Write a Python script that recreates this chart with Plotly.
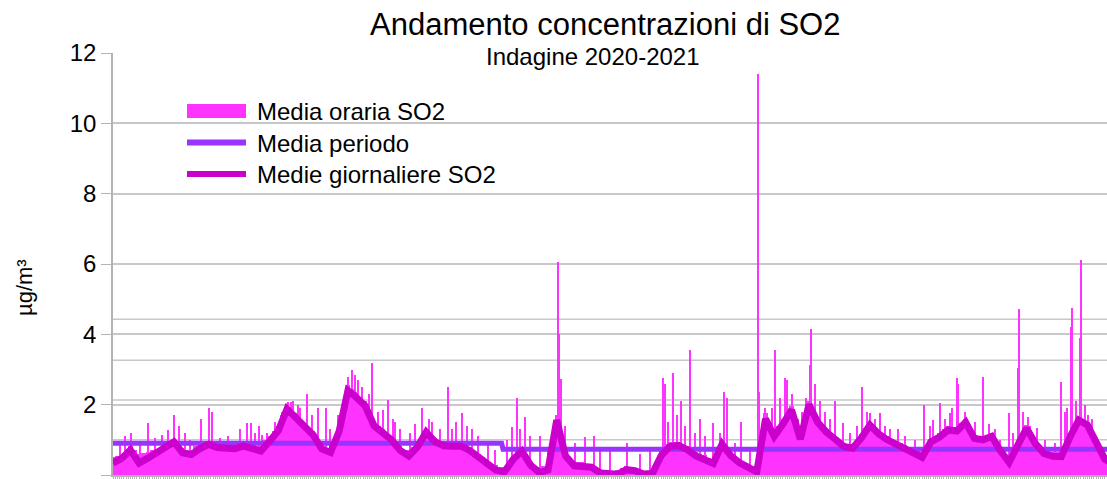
import plotly.graph_objects as go

# ---------------- data ----------------
HOURS_PER_DAY = 24
# daily means (one value per day, starting at hour 0)
daily_means = [
    0.34, 0.47, 0.71, 0.34, 0.48, 0.62, 0.78, 0.94, 0.63, 0.58,
    0.75, 0.87, 0.78, 0.74, 0.75, 0.82, 0.75, 0.68, 0.96, 1.26,
    1.88, 1.62, 1.34, 1.14, 0.74, 0.64, 1.25, 2.40, 2.20, 1.96,
    1.40, 1.18, 1.00, 0.70, 0.54, 0.80, 1.22, 0.95, 0.83, 0.82,
    0.82, 0.70, 0.50, 0.32, 0.14, 0.09, 0.45, 0.68, 0.28, 0.07,
    0.14, 1.56, 0.55, 0.26, 0.26, 0.22, 0.06, 0.03, 0.02, 0.15,
    0.12, 0.03, 0.04, 0.55, 0.81, 0.84, 0.72, 0.54, 0.46, 0.33,
    0.88, 0.55, 0.35, 0.20, 0.09, 1.60, 1.10, 1.45, 1.85, 1.02,
    2.00, 1.50, 1.22, 1.02, 0.81, 0.76, 1.05, 1.42, 1.17, 1.00,
    0.88, 0.74, 0.64, 0.50, 0.94, 1.08, 1.28, 1.25, 1.50, 1.04,
    1.00, 1.10, 0.69, 0.36, 0.85, 1.33, 0.90, 0.61, 0.53, 0.52,
    1.08, 1.56, 1.42, 0.91, 0.45, 0.30,
]

# hourly concentrations, summarised in 12-hour blocks (block j centred at hour 12*j)
hourly_blocks = [
    0.50, 0.55, 0.60, 0.70, 0.82, 0.70, 0.60, 0.62, 0.65, 0.70,
    0.75, 0.80, 0.90, 0.95, 1.02, 0.90, 0.78, 0.72, 0.72, 0.82,
    0.88, 0.95, 0.98, 0.92, 0.90, 0.86, 0.86, 0.88, 0.90, 0.94,
    0.95, 0.88, 0.86, 0.82, 0.82, 1.00, 1.10, 1.25, 1.40, 1.70,
    2.00, 1.85, 1.75, 1.55, 1.45, 1.35, 1.25, 1.00, 0.85, 0.78,
    0.78, 1.05, 1.40, 2.00, 2.55, 2.45, 2.35, 2.20, 2.10, 1.80,
    1.50, 1.40, 1.30, 1.20, 1.10, 0.95, 0.82, 0.72, 0.70, 0.80,
    0.95, 1.15, 1.32, 1.15, 1.05, 0.98, 0.95, 0.92, 0.92, 0.94,
    0.92, 0.85, 0.80, 0.68, 0.60, 0.50, 0.42, 0.32, 0.28, 0.22,
    0.22, 0.40, 0.58, 0.70, 0.78, 0.55, 0.38, 0.25, 0.22, 0.25,
    0.30, 0.90, 1.70, 1.10, 0.60, 0.40, 0.38, 0.36, 0.36, 0.32,
    0.30, 0.22, 0.18, 0.15, 0.14, 0.12, 0.14, 0.20, 0.25, 0.22,
    0.20, 0.15, 0.12, 0.12, 0.14, 0.40, 0.70, 0.88, 0.95, 0.95,
    0.95, 0.85, 0.82, 0.68, 0.65, 0.60, 0.56, 0.48, 0.45, 0.70,
    0.95, 0.75, 0.62, 0.50, 0.45, 0.35, 0.30, 0.22, 0.25, 1.00,
    1.75, 1.40, 1.25, 1.40, 1.60, 1.80, 1.95, 1.50, 1.20, 1.60,
    2.10, 1.85, 1.60, 1.45, 1.32, 1.20, 1.12, 1.00, 0.92, 0.88,
    0.88, 1.00, 1.18, 1.35, 1.50, 1.38, 1.28, 1.15, 1.10, 1.02,
    0.98, 0.90, 0.86, 0.80, 0.76, 0.70, 0.65, 0.85, 1.05, 1.12,
    1.20, 1.30, 1.38, 1.36, 1.36, 1.48, 1.58, 1.32, 1.15, 1.10,
    1.12, 1.15, 1.20, 0.95, 0.80, 0.60, 0.50, 0.70, 0.98, 1.20,
    1.42, 1.20, 1.00, 0.85, 0.75, 0.68, 0.66, 0.66, 0.66, 0.88,
    1.20, 1.42, 1.66, 1.60, 1.52, 1.25, 1.02, 0.75, 0.58, 0.48,
    0.42, 0.40,
]
BLOCK_HOURS = 12

# isolated hourly peaks (hour, value)
peak_hours = [
    50, 97, 152, 168, 182, 243, 265, 273, 350, 370, 381, 403, 425, 483, 491,
    497, 510, 535, 566, 588, 648, 659, 668, 676, 706, 714, 745, 759, 772, 852,
    872, 924, 963, 990, 1034, 1087, 1101, 1114, 1123, 1137, 1178, 1228, 1230,
    1236, 1302, 1327, 1418, 1517, 1523, 1545, 1567, 1592, 1620, 1655, 1686,
    1694, 1732, 1779, 1782, 1818, 1826, 1854, 1859, 1901, 1923, 1926, 1950,
    1992, 2014, 2066, 2088, 2116, 2143, 2166, 2237, 2262, 2281, 2309, 2328,
    2331, 2400, 2417, 2472, 2497, 2499, 2524, 2549, 2615, 2626, 2643, 2646,
    2668, 2670, 2690, 2712,
]
peak_values = [
    1.20, 1.48, 1.28, 1.70, 1.40, 1.59, 1.90, 1.79, 1.30, 1.48, 1.48, 1.40, 1.20, 2.08, 2.08,
    2.10, 2.00, 2.30, 1.90, 1.90, 2.79, 2.98, 2.84, 2.70, 2.30, 3.18, 1.85, 2.14, 1.60, 1.90,
    1.60, 2.50, 1.75, 1.30, 0.90, 1.00, 1.37, 2.20, 1.30, 1.65, 1.10, 6.05, 4.00,
    2.73, 1.08, 1.10, 0.90, 2.75, 2.60, 2.90, 2.10, 3.55, 1.60, 1.48, 2.36,
    2.20, 1.50, 11.40, 2.36, 1.90, 3.55, 2.75, 2.70, 1.80, 3.13, 4.15, 2.10,
    2.10, 1.48, 2.50, 1.75, 1.75, 1.30, 1.30, 2.00, 1.55, 2.05, 1.75, 2.75,
    2.60, 2.80, 1.45, 1.75, 3.05, 4.72, 1.65, 1.35, 2.65, 1.80, 4.20, 4.75,
    3.90, 6.10, 1.70, 1.10,
]

# smaller hourly peaks that make the ragged top of the hourly bars
minor_peak_hours = [
    19, 33, 74, 116, 135, 199, 212, 295, 317, 392, 411, 447, 466, 516, 549,
    599, 621, 687, 731, 778, 792, 819, 833, 880, 902, 935, 946, 977, 1007, 1054,
    1150, 1200, 1247, 1274, 1343, 1371, 1454, 1481, 1531, 1556, 1578, 1606, 1633,
    1674, 1716, 1757, 1799, 1840, 1873, 1890, 1912, 1937, 1964, 1978, 2033, 2052,
    2080, 2102, 2130, 2185, 2212, 2254, 2295, 2314, 2350, 2378, 2433, 2447, 2483,
    2510, 2530, 2571, 2599, 2632, 2657, 2681, 2701, 2728,
]
minor_peak_values = [
    0.90, 1.10, 0.95, 1.05, 1.15, 1.20, 1.00, 1.05, 1.10, 1.20, 1.15, 1.50, 1.80, 1.90, 1.70,
    1.30, 1.70, 2.50, 1.80, 1.50, 1.30, 1.20, 1.45, 1.50, 1.30, 1.30, 1.50, 1.40, 1.10, 0.70,
    1.10, 0.80, 1.40, 0.90, 0.75, 0.70, 0.60, 0.70, 1.50, 1.70, 1.40, 1.20, 1.10,
    1.20, 0.90, 0.80, 1.90, 2.20, 2.30, 1.60, 2.20, 2.60, 1.80, 1.60, 1.20, 1.40,
    1.80, 1.60, 1.40, 1.10, 1.00, 1.40, 1.60, 1.90, 1.80, 1.50, 1.30, 1.00, 1.20,
    1.80, 1.40, 1.00, 0.90, 1.90, 2.10, 2.00, 1.60, 0.80,
]

# mean over each measurement campaign
period_hours = [0, 1072, 1076, 2760]
period_values = [0.90, 0.90, 0.73, 0.73]

# additional light reference lines visible in the chart
ref_lines = [1.0, 2.13, 3.26, 4.43]

X_MAX_HOURS = 2742
Y_TICKS = [0, 2, 4, 6, 8, 10, 12]

series_names = ["Media oraria SO2", "Media periodo", "Medie giornaliere SO2"]
title_text = "Andamento concentrazioni di SO2"
subtitle_text = "Indagine 2020-2021"
y_title = "µg/m³"

# ---------------- styling ----------------
PINK = "#ff33ff"
PURPLE = "#9933ff"
MAGENTA = "#cc00cc"
GRID = "#c8c8c8"
AXIS = "#b3b3b3"
FONT = "Liberation Sans, Arial, sans-serif"

W, H = 1107, 479
ML, MR, MT, MB = 113, 0, 53, 4
PW, PH = W - ML - MR, H - MT - MB


def px_x(px):
    return (px - ML) / PW


def px_y(py):
    return (H - MB - py) / PH


fig = go.Figure()

fig.add_trace(go.Bar(
    x=[BLOCK_HOURS * j for j in range(len(hourly_blocks))],
    y=hourly_blocks, width=BLOCK_HOURS,
    marker=dict(color=PINK, line=dict(width=0)),
    name=series_names[0], showlegend=False,
))
fig.add_trace(go.Bar(
    x=peak_hours + minor_peak_hours, y=peak_values + minor_peak_values, width=3,
    marker=dict(color=PINK, line=dict(width=0)),
    name=series_names[0], showlegend=False,
))
fig.add_trace(go.Scatter(
    x=period_hours, y=period_values, mode="lines",
    line=dict(color=PURPLE, width=5),
    name=series_names[1], showlegend=False,
))
fig.add_trace(go.Scatter(
    x=[HOURS_PER_DAY * k for k in range(len(daily_means))], y=daily_means,
    mode="lines", line=dict(color=MAGENTA, width=7),
    name=series_names[2], showlegend=False,
))

shapes = []
for v in ref_lines:
    shapes.append(dict(type="line", xref="paper", yref="y", x0=0, x1=1, y0=v, y1=v,
                       line=dict(color=GRID, width=1.5), layer="below"))

# hand-built legend (wide swatches as in the reference)
shapes.append(dict(type="rect", xref="paper", yref="paper",
                   x0=px_x(187), x1=px_x(246), y0=px_y(118), y1=px_y(104),
                   fillcolor=PINK, line=dict(width=0)))
shapes.append(dict(type="line", xref="paper", yref="paper",
                   x0=px_x(187), x1=px_x(246), y0=px_y(142.5), y1=px_y(142.5),
                   line=dict(color=PURPLE, width=6)))
shapes.append(dict(type="line", xref="paper", yref="paper",
                   x0=px_x(187), x1=px_x(246), y0=px_y(174), y1=px_y(174),
                   line=dict(color=MAGENTA, width=6)))

annotations = []
for name, cy in zip(series_names, [111, 143, 174]):
    annotations.append(dict(text=name, xref="paper", yref="paper",
                            x=px_x(255), y=px_y(cy), xanchor="left", yanchor="middle",
                            showarrow=False, font=dict(family=FONT, size=24, color="#000000")))
annotations.append(dict(text=title_text, xref="paper", yref="paper",
                        x=px_x(605), y=px_y(25), xanchor="center", yanchor="middle",
                        showarrow=False, font=dict(family=FONT, size=31, color="#000000")))
annotations.append(dict(text=subtitle_text, xref="paper", yref="paper",
                        x=px_x(593), y=px_y(57), xanchor="center", yanchor="middle",
                        showarrow=False, font=dict(family=FONT, size=24, color="#000000")))
annotations.append(dict(text=y_title, xref="paper", yref="paper",
                        x=px_x(24), y=px_y(288), xanchor="center", yanchor="middle",
                        textangle=-90, showarrow=False,
                        font=dict(family=FONT, size=22, color="#000000")))

fig.update_layout(
    width=W, height=H,
    margin=dict(l=ML, r=MR, t=MT, b=MB, pad=0),
    paper_bgcolor="white", plot_bgcolor="white",
    barmode="overlay", bargap=0,
    showlegend=False,
    shapes=shapes, annotations=annotations,
    font=dict(family=FONT, color="#000000"),
    xaxis=dict(range=[0, X_MAX_HOURS], showgrid=False, zeroline=False,
               showline=True, linecolor=AXIS, linewidth=1.5,
               ticks="outside", ticklen=4, tickcolor=AXIS, dtick=6, tick0=0,
               showticklabels=False),
    yaxis=dict(range=[0, 12], tickvals=Y_TICKS, showgrid=True, gridcolor=GRID, gridwidth=1.5,
               zeroline=False, showline=True, linecolor=AXIS, linewidth=1.5,
               ticks="outside", ticklen=10, tickcolor=AXIS,
               tickfont=dict(family=FONT, size=24, color="#000000")),
)

fig.write_html("out.html", config={"displayModeBar": False},
               post_script="document.body.style.margin='0';document.body.style.overflow='hidden';")
